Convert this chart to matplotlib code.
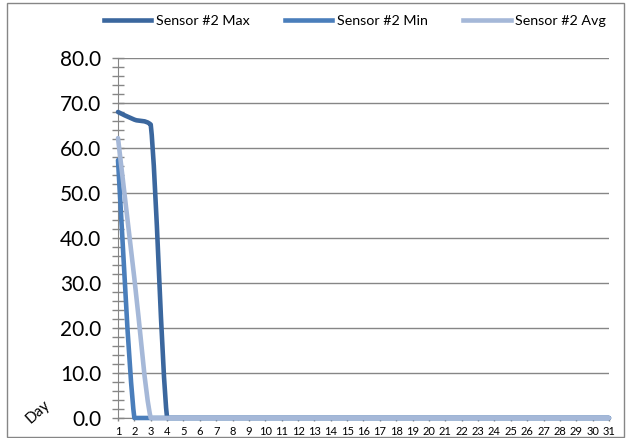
import matplotlib.pyplot as plt
from matplotlib.path import Path
from matplotlib.patches import PathPatch, Rectangle
from matplotlib.lines import Line2D
from matplotlib.ticker import MultipleLocator, FuncFormatter

plt.rcParams['font.family'] = ['Lato', 'DejaVu Sans']

days = list(range(1, 32))
max_vals = [68.0, 66.3, 65.2] + [0.0] * 28
min_vals = [57.3] + [0.0] * 30
avg_vals = [62.2, 31.0] + [0.0] * 29

names = ['Sensor #2 Max', 'Sensor #2 Min', 'Sensor #2 Avg']
colors = ['#3B679E', '#4A7EBB', '#A5B8D8']


def smooth_path(xs, ys):
    # Excel style smoothed line, control points kept inside each segment's range
    n = len(xs)
    verts = [(xs[0], ys[0])]
    codes = [Path.MOVETO]
    for i in range(n - 1):
        x0, y0 = (xs[i - 1], ys[i - 1]) if i > 0 else (xs[i], ys[i])
        x1, y1 = xs[i], ys[i]
        x2, y2 = xs[i + 1], ys[i + 1]
        x3, y3 = (xs[i + 2], ys[i + 2]) if i + 2 < n else (x2, y2)
        lo, hi = min(y1, y2), max(y1, y2)
        c1 = (x1 + (x2 - x0) / 6, min(max(y1 + (y2 - y0) / 6, lo), hi))
        c2 = (x2 - (x3 - x1) / 6, min(max(y2 - (y3 - y1) / 6, lo), hi))
        verts += [c1, c2, (x2, y2)]
        codes += [Path.CURVE4] * 3
    return Path(verts, codes)


fig = plt.figure(figsize=(6.26, 4.38), dpi=100)
ax = fig.add_axes([0.1885, 0.0457, 0.7843, 0.8219])

for vals, c in zip([max_vals, min_vals, avg_vals], colors):
    ax.add_patch(PathPatch(smooth_path(days, vals), fill=False, edgecolor=c,
                           lw=3.3, capstyle='round', joinstyle='round',
                           clip_on=False, zorder=3))

ax.set_xlim(1, 31)
ax.set_ylim(0, 80)
ax.set_xticks(days)
ax.set_xticklabels([str(d) for d in days], fontsize=8)
ax.yaxis.set_major_locator(MultipleLocator(10))
ax.yaxis.set_minor_locator(MultipleLocator(2))
ax.yaxis.set_major_formatter(FuncFormatter(lambda v, p: f'{v:.1f}'))
ax.tick_params(axis='y', which='major', direction='inout', length=8,
               color='#868686', width=1, pad=8, labelsize=15)
ax.tick_params(axis='y', which='minor', direction='inout', length=8,
               color='#868686', width=1)
ax.tick_params(axis='x', which='major', direction='out', length=2,
               color='#868686', width=1, pad=4)
ax.grid(axis='y', which='major', color='#868686', lw=1)
ax.set_axisbelow(True)
for s in ['top', 'right']:
    ax.spines[s].set_visible(False)
ax.spines['left'].set_color('#868686')
ax.spines['bottom'].set_color('#868686')

fig.text(0.061, 0.06, 'Day', rotation=42, fontsize=11, ha='center', va='center')

handles = [Line2D([0], [0], color=c, lw=3.3) for c in colors]
fig.legend(handles, names, loc='center', bbox_to_anchor=(0.567, 0.953), ncol=3,
           frameon=False, fontsize=10.3, handlelength=3.3, handletextpad=0.3,
           columnspacing=2.5)

fig.patches.append(Rectangle((7 / 626, 1 / 438), 617 / 626, 434 / 438,
                             transform=fig.transFigure, fill=False,
                             edgecolor='#868686', lw=1))

fig.savefig('out.png', dpi=100)
